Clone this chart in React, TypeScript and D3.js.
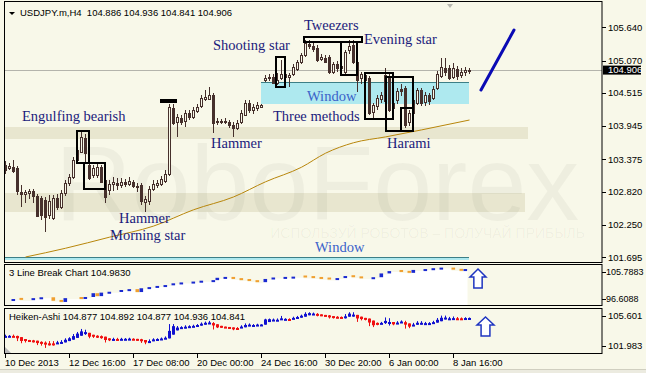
import React from 'react';
import * as d3 from 'd3';

// ---------- DATA ----------
const opens = [103.28,103.23,103.24,103.23,102.81,102.78,102.80,102.83,102.74,102.71,
102.68,102.42,102.37,102.71,102.56,102.80,102.97,103.07,103.36,103.50,
103.74,103.28,103.11,103.11,103.24,103.02,102.85,102.95,102.97,102.94,
102.99,102.95,102.99,102.92,102.94,102.64,102.66,102.87,102.94,102.95,
103.00,103.12,104.26,104.02,104.08,104.03,104.17,104.10,104.20,104.29,
104.41,104.41,104.48,104.03,104.02,104.03,104.02,103.96,103.91,104.02,
104.14,104.34,104.22,104.26,104.27,104.74,104.77,104.79,104.68,104.77,
104.84,104.79,104.84,104.92,105.04,105.16,105.35,105.32,105.28,105.10,
105.11,105.13,104.87,105.01,104.94,104.87,105.25,105.34,105.04,104.77,
104.82,104.77,104.19,104.29,104.41,104.38,104.80,104.26,104.39,104.58,
104.60,104.02,104.17,104.34,104.56,104.36,104.48,104.43,104.60,104.80,
104.94,104.94,104.79,104.92,104.82,104.87,104.886];
const highs = [103.35,103.31,103.36,103.26,102.94,102.85,102.87,102.87,102.78,102.74,
102.73,102.76,102.76,102.78,102.85,103.02,103.12,103.41,103.60,103.88,
103.81,103.31,103.28,103.30,103.28,103.06,103.02,103.07,103.06,103.06,
103.04,103.07,103.02,102.97,102.97,102.75,102.92,103.02,103.02,103.09,
103.19,104.33,104.33,104.15,104.13,104.22,104.22,104.27,104.33,104.48,
104.56,104.62,104.51,104.08,104.07,104.08,104.05,104.02,104.05,104.22,
104.39,104.39,104.33,104.36,104.33,104.82,104.84,104.84,104.85,105.08,
104.87,104.86,105.01,105.08,105.20,105.42,105.42,105.39,105.34,105.18,
105.16,105.16,105.04,105.06,105.03,105.25,105.42,105.42,105.08,104.87,
104.87,104.80,104.34,104.48,104.53,104.94,104.87,104.39,104.60,104.67,
104.63,104.22,104.44,104.60,104.60,104.53,104.51,104.63,104.89,105.11,
105.11,104.99,105.03,104.98,104.94,104.96,104.936];
const lows = [103.12,103.19,103.14,102.76,102.56,102.63,102.69,102.63,102.39,102.34,
102.13,102.35,102.34,102.51,102.52,102.75,102.92,103.04,103.31,103.48,
103.33,103.02,103.05,103.05,102.97,102.63,102.76,102.83,102.85,102.88,
102.90,102.92,102.88,102.81,102.59,102.47,102.59,102.83,102.88,102.92,
102.97,103.09,103.96,103.76,103.96,103.93,104.05,104.07,104.17,104.26,
104.38,104.39,103.83,103.96,103.98,103.98,103.91,103.76,103.88,103.98,
104.12,104.17,104.15,104.20,104.26,104.70,104.72,104.67,104.65,104.74,
104.74,104.62,104.80,104.89,105.01,105.13,105.27,105.22,105.04,105.06,
105.03,104.84,104.84,104.87,104.89,104.84,105.18,105.01,104.53,104.67,
104.67,104.14,104.05,104.22,104.34,104.34,104.19,104.22,104.33,104.46,
103.91,103.95,104.14,104.31,104.29,104.29,104.31,104.39,104.56,104.77,
104.80,104.74,104.75,104.74,104.77,104.80,104.841];
const closes = [103.19,103.26,103.17,102.83,102.78,102.81,102.83,102.74,102.40,102.42,
102.39,102.66,102.71,102.56,102.80,102.97,103.07,103.36,103.54,103.76,
103.48,103.05,103.23,103.24,102.99,102.73,102.95,102.99,102.94,102.99,
102.95,103.00,102.92,102.90,102.66,102.69,102.87,102.95,102.97,103.04,
103.12,104.27,104.00,104.10,104.02,104.17,104.10,104.22,104.27,104.43,
104.44,104.48,104.00,104.02,104.03,104.02,103.96,103.91,104.00,104.17,
104.34,104.22,104.27,104.31,104.31,104.77,104.79,104.68,104.74,104.84,
104.79,104.82,104.96,105.04,105.16,105.37,105.32,105.27,105.08,105.13,
105.04,104.87,105.01,104.94,104.98,105.22,105.32,105.04,104.74,104.84,
104.74,104.17,104.31,104.43,104.48,104.82,104.22,104.34,104.55,104.55,
103.96,104.17,104.39,104.56,104.34,104.48,104.38,104.58,104.84,104.96,
104.87,104.77,104.94,104.80,104.87,104.91,104.906];

const maIdx = [5, 15, 26, 37, 47, 57, 65, 74, 80, 87, 95, 104, 116];
const maVal = [101.70, 101.85, 102.04, 102.23, 102.51, 102.73, 102.99, 103.24, 103.48, 103.66, 103.76, 103.88, 104.05];

const priceTicks = [105.640, 105.070, 104.515, 103.945, 103.375, 102.820, 102.250, 101.695];
const lastPrice = 104.906;

const lbIdx = [2,4,7,9,12,14,15,19,20,22,23,24,26,29,31,33,34,36,38,40,42,44,47,49,52,53,55,57,59,61,63,65,67,70,72,75,77,79,81,83,85,87,89,92,94,96,99,101,102,105,107,109,112,114,115];
const lbVal = [96.6,96.3,96.9,97.2,96.0,95.6,96.9,96.6,97.3,98.6,97.6,98.8,99.1,99.7,100.0,99.0,100.3,100.7,101.1,101.4,102.0,102.3,102.6,102.9,103.1,103.9,104.2,103.5,103.1,102.8,102.4,103.5,104.0,104.2,104.3,104.0,103.8,103.5,103.3,103.8,104.5,104.1,103.7,104.1,105.4,106.2,105.9,105.6,106.6,106.9,107.2,107.4,106.7,106.3,106.9];
const lbTicks = [105.7883, 96.6088];
const haTicks = [105.601, 101.983];

const timeIdx = [0, 16, 32, 48, 64, 80, 96, 112];
const timeLabels = ["10 Dec 2013", "12 Dec 16:00", "17 Dec 08:00", "20 Dec 00:00", "24 Dec 16:00", "30 Dec 20:00", "6 Jan 00:00", "8 Jan 16:00"];

const BG = '#f8f8e9';
const CANDLE = '#46302c';
const NAVY = '#1b1b7c';
const SANS = "'Liberation Sans', Arial, sans-serif";
const SERIF = "'Liberation Serif', 'Times New Roman', serif";

export default function App() {
  const n = closes.length;
  const x = d3.scaleLinear().domain([0, 116]).range([5.5, 469.5]);
  const y = d3.scaleLinear().domain([101.695, 105.64]).range([257.3, 27.3]);
  const y2 = d3.scaleLinear().domain([96.6088, 105.7883]).range([299, 272.3]);
  const y3 = d3.scaleLinear().domain([102.4, 105.35]).range([345, 313]);
  const px = (v: number) => Math.round(v) + 0.5;

  // Heiken-Ashi derived from the candles
  const haO: number[] = [], haC: number[] = [], haH: number[] = [], haL: number[] = [];
  for (let i = 0; i < n; i++) {
    const c = (opens[i] + highs[i] + lows[i] + closes[i]) / 4;
    const o = i === 0 ? (opens[0] + closes[0]) / 2 : (haO[i - 1] + haC[i - 1]) / 2;
    haO.push(o); haC.push(c);
    haH.push(Math.max(highs[i], o, c)); haL.push(Math.min(lows[i], o, c));
  }

  const maLine = d3.line<number>().x((d, i) => x(maIdx[i])).y(d => y(d)).curve(d3.curveMonotoneX)(maVal) || '';

  const lbAreaIdx = [...lbIdx, lbIdx[lbIdx.length - 1] + 1];
  const lbArea = d3.area<number>()
    .x((d, i) => x(lbAreaIdx[i]) - 2)
    .y0(305.5).y1(d => y2(d) + 1)
    .curve(d3.curveStepAfter)([...lbVal, lbVal[lbVal.length - 1]]) || '';

  const boxes = [
    [77, 131, 12, 32], [84, 163, 21, 26], [276, 57, 9, 30], [304, 37, 58, 5],
    [341, 42, 16, 33], [365, 73, 28, 46], [386, 77, 27, 54], [401, 108, 12, 23],
  ];

  const labels: [string, number, number, string][] = [
    ['Engulfing bearish', 22, 121, NAVY],
    ['Shooting star', 213, 50, NAVY],
    ['Tweezers', 304, 30, NAVY],
    ['Evening star', 364, 44, NAVY],
    ['Window', 307, 101, '#3a62c9'],
    ['Three methods', 273, 121, NAVY],
    ['Hammer', 211, 148, NAVY],
    ['Harami', 387, 148, NAVY],
    ['Hammer', 119, 223, NAVY],
    ['Morning star', 110, 240, NAVY],
    ['Window', 315, 252, '#3a62c9'],
  ];

  const arrow = (x0: number, y0: number, w: number, h: number) => {
    const hh = h * 0.42, sw = w * 0.26;
    const cx = x0 + w / 2;
    return `M${cx},${y0} L${x0 + w},${y0 + hh} L${cx + sw},${y0 + hh} L${cx + sw},${y0 + h} L${cx - sw},${y0 + h} L${cx - sw},${y0 + hh} L${x0},${y0 + hh} Z`;
  };
  const clamp = (v: number, a: number, b: number) => Math.max(a, Math.min(b, v));

  return (
    <svg width={646} height={373} style={{ position: 'fixed', left: 0, top: 0, display: 'block' }}>
      <rect x={0} y={0} width={646} height={373} fill={BG} />
      {/* watermark bands */}
      <rect x={5} y={127} width={523} height={12} fill="#e8e6cf" />
      <rect x={5} y={193} width={520} height={19} fill="#e8e6cf" />
      <text x={55} y={220} fontFamily={SANS} fontSize={106} fill="#000" fillOpacity={0.04}>RoboForex</text>
      <text x={585} y={238} textAnchor="end" fontFamily={SANS} fontSize={14} fill="#000" fillOpacity={0.045}>ИСПОЛЬЗУЙ РОБОТОВ – ПОЛУЧАЙ ПРИБЫЛЬ</text>

      {/* windows */}
      <rect x={261} y={82} width={208} height={22} fill="#aee9ef" />
      <line x1={261} x2={469} y1={82.5} y2={82.5} stroke="#3d7f86" strokeWidth={1} />
      <rect x={5} y={257} width={464} height={3} fill="#aee9ef" />
      <line x1={5} x2={469} y1={257.5} y2={257.5} stroke="#3d7f86" strokeWidth={1} />

      {/* current price line */}
      <line x1={5} x2={602} y1={px(y(lastPrice))} y2={px(y(lastPrice))} stroke="#b4b4ac" strokeWidth={1} />

      {/* moving average */}
      <path d={maLine} fill="none" stroke="#b8860b" strokeWidth={1} />

      {/* candles */}
      {closes.map((c, i) => {
        const o = opens[i];
        const cx = x(i);
        const top = px(y(Math.max(o, c)));
        const bot = px(y(Math.min(o, c)));
        const bull = c >= o;
        return (
          <g key={i}>
            <line x1={cx} x2={cx} y1={Math.round(y(highs[i]))} y2={Math.round(y(lows[i]))} stroke={CANDLE} strokeWidth={1} />
            <rect x={cx - 1} y={top} width={2} height={Math.max(bot - top, 0)} fill={bull ? BG : CANDLE} stroke={CANDLE} strokeWidth={1} />
          </g>
        );
      })}

      {/* pattern boxes */}
      {boxes.map((b, i) => (
        <rect key={i} x={b[0]} y={b[1]} width={b[2]} height={b[3]} fill="none" stroke="#000" strokeWidth={2} />
      ))}
      <line x1={160} x2={177} y1={101} y2={101} stroke="#000" strokeWidth={4} />

      {/* trend line */}
      <line x1={481} y1={90} x2={514} y2={30} stroke="#0a0ab4" strokeWidth={3} strokeLinecap="round" />

      {/* pattern labels */}
      {labels.map((l, i) => (
        <text key={i} x={l[1]} y={l[2]} fontFamily={SERIF} fontSize={14.5} fill={l[3]}>{l[0]}</text>
      ))}

      {/* shift marker */}
      <path d="M447,4 L453,4 L450,8 Z" fill="#b8b8b0" />

      {/* title */}
      <path d="M9,12 L15,12 L12,15 Z" fill="#000" />
      <text x={20} y={16} fontFamily={SANS} fontSize={9.5} fill="#000" style={{ whiteSpace: 'pre' }}>{'USDJPY.m,H4  104.886 104.936 104.841 104.906'}</text>

      {/* main panel border */}
      <rect x={4.5} y={1.5} width={597.5} height={261} fill="none" stroke="#000" strokeWidth={1} />
      {priceTicks.map((t, i) => (
        <g key={i}>
          <line x1={602} x2={606} y1={px(y(t))} y2={px(y(t))} stroke="#000" />
          <text x={608} y={y(t)} dy="0.35em" fontFamily={SANS} fontSize={9.5} fill="#000">{t.toFixed(3)}</text>
        </g>
      ))}
      <rect x={603} y={y(lastPrice) - 4.5} width={38} height={9} fill="#000" />
      <text x={608} y={y(lastPrice)} dy="0.35em" fontFamily={SANS} fontSize={9.5} fill="#fff">{lastPrice.toFixed(3)}</text>

      {/* 3 line break panel */}
      <path d={lbArea} fill="#ffffff" />
      {lbVal.map((v, i) => {
        const prev = i === 0 ? v - 0.3 : lbVal[i - 1];
        const up = v >= prev;
        const y1 = y2(Math.max(v, prev)), yb = y2(Math.min(v, prev));
        const h = Math.max(yb - y1, 2);
        return <rect key={i} x={x(lbIdx[i]) - 2} y={up ? y1 : yb - h} width={3.6} height={h} fill={up ? '#1a2ad0' : '#f0a030'} />;
      })}
      <rect x={4.5} y={264.5} width={597.5} height={41} fill="none" stroke="#000" />
      <text x={9} y={276} fontFamily={SANS} fontSize={9.5} fill="#000">3 Line Break Chart 104.9830</text>
      {lbTicks.map((t, i) => (
        <g key={i}>
          <line x1={602} x2={606} y1={px(y2(t))} y2={px(y2(t))} stroke="#000" />
          <text x={606} y={y2(t)} dy="0.35em" fontFamily={SANS} fontSize={9} fill="#000">{t.toFixed(4)}</text>
        </g>
      ))}
      <path d={arrow(470, 269, 16, 19)} fill="#fff" stroke="#1f35c0" strokeWidth={1.5} />

      {/* Heiken-Ashi panel */}
      {haC.map((c, i) => {
        const o = haO[i];
        const bull = c >= o;
        const col = bull ? '#1010d0' : '#f01010';
        const cx = x(i);
        const t = y3(Math.max(o, c)), b = y3(Math.min(o, c));
        return (
          <g key={i}>
            <line x1={cx} x2={cx} y1={y3(haH[i])} y2={y3(haL[i])} stroke={col} strokeWidth={1} />
            <rect x={cx - 1.5} y={t} width={3} height={Math.max(b - t, 2)} fill={col} />
          </g>
        );
      })}
      <path d="M5,347 L5,353 L11,353 Z" fill="#b8b8b8" />
      <rect x={4.5} y={308.5} width={597.5} height={45} fill="none" stroke="#000" />
      <text x={9} y={320} fontFamily={SANS} fontSize={9.5} fill="#000">Heiken-Ashi 104.877 104.892 104.877 104.936 104.841</text>
      {haTicks.map((t, i) => {
        const ty = clamp(y3(t), 316, 346);
        return (
          <g key={i}>
            <line x1={602} x2={606} y1={px(ty)} y2={px(ty)} stroke="#000" />
            <text x={608} y={ty} dy="0.35em" fontFamily={SANS} fontSize={9.5} fill="#000">{t.toFixed(3)}</text>
          </g>
        );
      })}
      <path d={arrow(477, 317, 17, 19)} fill="#fff" stroke="#1f35c0" strokeWidth={1.5} />

      {/* time axis */}
      {timeIdx.map((t, i) => (
        <g key={i}>
          <line x1={x(t)} x2={x(t)} y1={354} y2={358} stroke="#000" />
          <text x={x(t) - 0.5} y={366} fontFamily={SANS} fontSize={9.5} fill="#000">{timeLabels[i]}</text>
        </g>
      ))}
      <line x1={0} x2={646} y1={369.5} y2={369.5} stroke="#d0cfc0" />
      <rect x={0} y={370} width={646} height={3} fill="#ecebe0" />
    </svg>
  );
}
